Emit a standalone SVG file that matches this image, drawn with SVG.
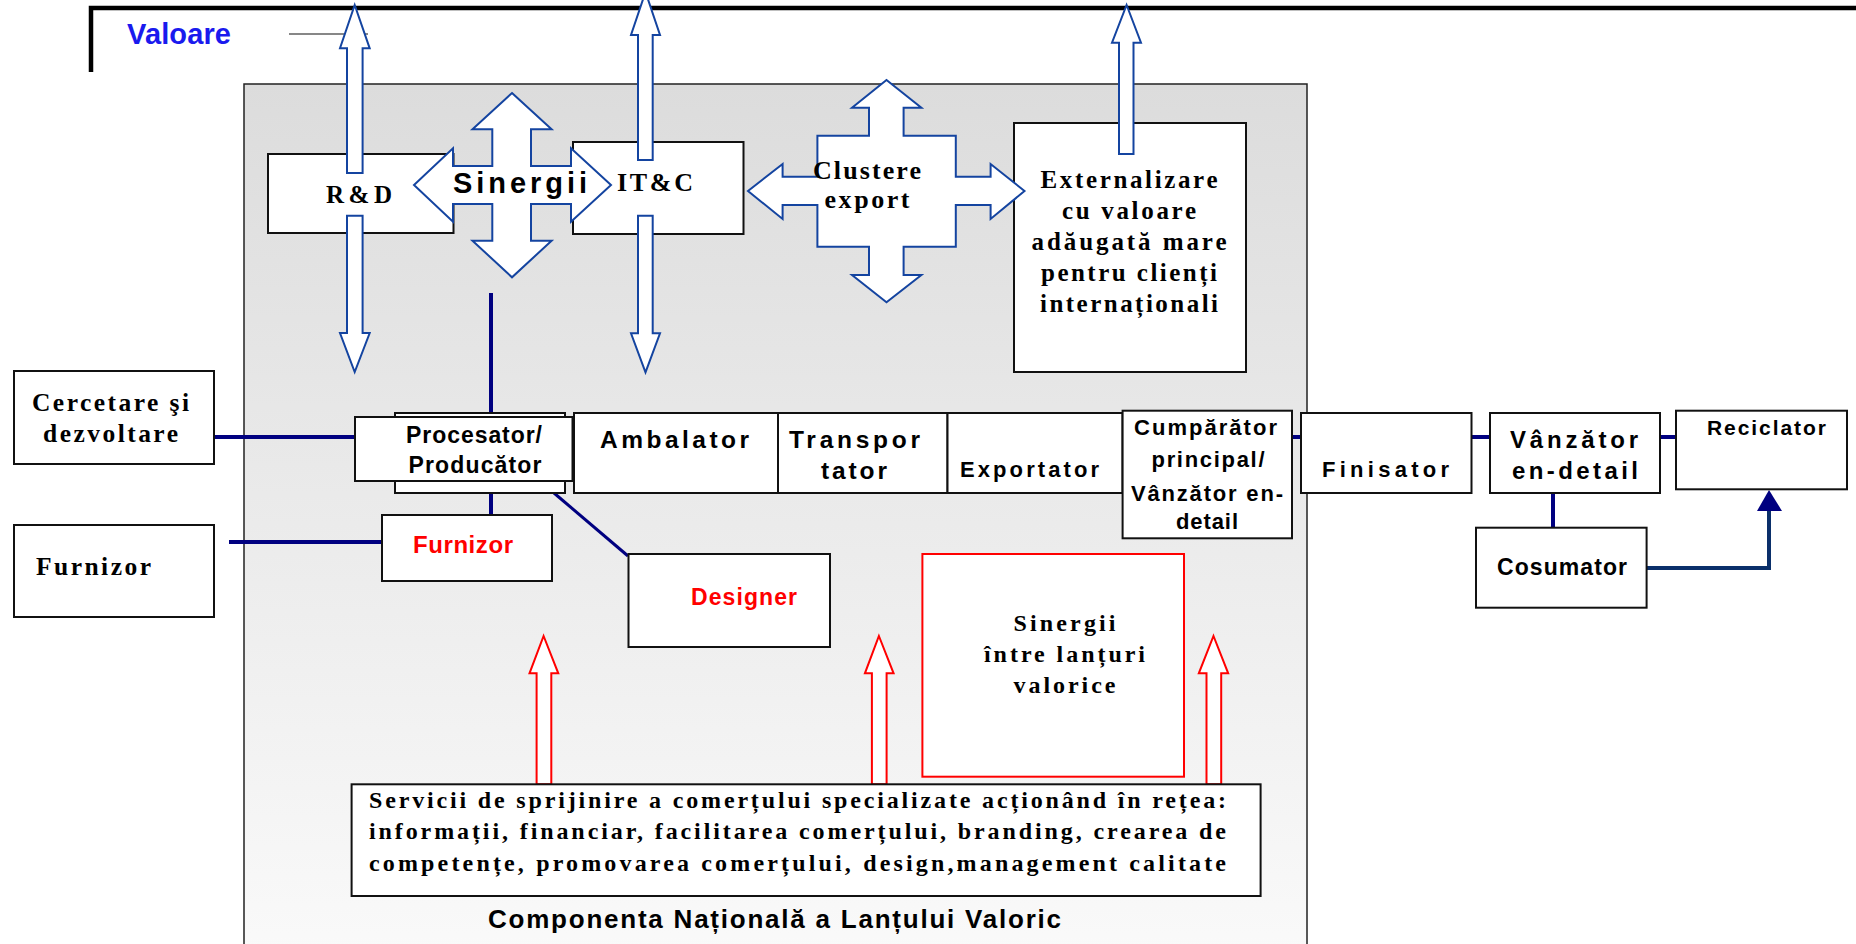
<svg xmlns="http://www.w3.org/2000/svg" width="1856" height="944" viewBox="0 0 1856 944">
<defs>
<linearGradient id="bg" x1="0" y1="0" x2="0" y2="1">
<stop offset="0" stop-color="#dcdcdc"/>
<stop offset="1" stop-color="#fafafa"/>
</linearGradient>
<style>
.box{fill:#fff;stroke:#111;stroke-width:2}
.rbox{fill:#fff;stroke:#ff0000;stroke-width:2}
.barrow{fill:#fff;stroke:#1444a0;stroke-width:2;stroke-linejoin:miter}
.rarrow{fill:#fff;stroke:#ff0000;stroke-width:2}
.link{stroke:#000080;stroke-width:4;fill:none}
.tb{font-family:"Liberation Serif","Times New Roman",serif;font-weight:bold;fill:#000;font-size:24px}
.sb{font-family:"Liberation Sans",Arial,sans-serif;font-weight:bold;fill:#000;font-size:22px}
.red{fill:#ff0000}
.mid{text-anchor:middle}
</style>
</defs>
<rect width="1856" height="944" fill="#fff"/>

<g id="frame">
<rect x="244" y="84" width="1063" height="880" fill="url(#bg)" stroke="#222" stroke-width="1.5"/>
<path d="M91,72 V8 H1856" fill="none" stroke="#000" stroke-width="4.5"/>
<text x="127" y="44" class="sb" style="font-size:29px;fill:#1a1aee" textLength="104" lengthAdjust="spacing">Valoare</text>
<line x1="289" y1="34" x2="368" y2="34" stroke="#111" stroke-width="1.2"/>
<text x="774.5" y="928" class="sb mid" style="font-size:26px" textLength="573" lengthAdjust="spacing">Componenta Națională a Lanțului Valoric</text>
</g>

<g id="connectors">
<line class="link" x1="491" y1="293" x2="491" y2="417"/>
<line class="link" x1="491" y1="493" x2="491" y2="515"/>
<line class="link" x1="214" y1="437" x2="355" y2="437"/>
<line class="link" x1="229" y1="542" x2="382" y2="542"/>
<line x1="554" y1="493" x2="628" y2="556" stroke="#000080" stroke-width="3"/>
<line class="link" x1="1292" y1="437" x2="1301" y2="437"/>
<line class="link" x1="1471" y1="437" x2="1490" y2="437"/>
<line class="link" x1="1660" y1="437" x2="1676" y2="437"/>
<line class="link" x1="1553" y1="493" x2="1553" y2="528"/>
<path d="M1647,568 H1769 V510" fill="none" stroke="#0a2f6a" stroke-width="4"/>
<path d="M1757,511 L1769,490 L1782,511 Z" fill="#000080"/>
</g>

<g id="rd">
<rect class="box" x="268" y="154" width="185.5" height="79"/>
<text x="359" y="203" class="tb mid" style="font-size:25px" textLength="66" lengthAdjust="spacing">R&amp;D</text>
</g>

<g id="itc">
<rect class="box" x="573" y="142" width="170.5" height="92"/>
<text x="655" y="191" class="tb mid" style="font-size:26px" textLength="76" lengthAdjust="spacing">IT&amp;C</text>
</g>

<g id="externalizare">
<rect class="box" x="1014" y="123" width="232" height="249"/>
<text x="1129" y="188" class="tb mid" style="font-size:25px" textLength="177" lengthAdjust="spacing">Externalizare</text>
<text x="1129" y="219" class="tb mid" style="font-size:25px" textLength="134" lengthAdjust="spacing">cu valoare</text>
<text x="1129" y="250" class="tb mid" style="font-size:25px" textLength="195" lengthAdjust="spacing">adăugată mare</text>
<text x="1129" y="281" class="tb mid" style="font-size:25px" textLength="176" lengthAdjust="spacing">pentru clienți</text>
<text x="1129" y="312" class="tb mid" style="font-size:25px" textLength="178" lengthAdjust="spacing">internaționali</text>
</g>

<g id="blue-arrows">
<polygon class="barrow" points="354.7,5 369.7,48.3 362.6,48.3 362.6,173 347,173 347,48.3 340,48.3"/>
<polygon class="barrow" points="347,215.7 362.6,215.7 362.6,333 369.7,333 354.7,372 340,333 347,333"/>
<polygon class="barrow" points="645.5,-8 660,35 652.7,35 652.7,160 638,160 638,35 631,35"/>
<polygon class="barrow" points="638,215.7 652.7,215.7 652.7,333.3 660,333.3 645.5,372.3 631,333.3 638,333.3"/>
<polygon class="barrow" points="1126.6,5 1141,42.7 1133.5,42.7 1133.5,154 1119,154 1119,42.7 1112,42.7"/>
</g>

<g id="sinergii-arrow">
<polygon class="barrow" points="512,93 551.6,129.3 531,129.3 531,166 571,166 571,148.3 611,185 571,221.7 571,204 531,204 531,240.7 551.6,240.7 512,277.3 472.5,240.7 492.3,240.7 492.3,204 453,204 453,221.7 414,185 453,148.3 453,166 492.3,166 492.3,129.3 472.5,129.3"/>
<text x="520" y="193" class="sb mid" style="font-size:29px" textLength="134" lengthAdjust="spacing">Sinergii</text>
</g>

<g id="clustere">
<polygon class="barrow" points="886.5,80 921.4,107.7 903.6,107.7 903.6,135.7 955.8,135.7 955.8,176.7 990.6,176.7 990.6,164 1024.5,191 990.6,219 990.6,205 955.8,205 955.8,246.7 903.6,246.7 903.6,275 921.4,275 886.5,302.3 852,275 869,275 869,246.7 817.4,246.7 817.4,205 782.6,205 782.6,219 748,191 782.6,164 782.6,176.7 817.4,176.7 817.4,135.7 869,135.7 869,107.7 852,107.7"/>
<text x="867" y="179" class="tb mid" style="font-size:26px" textLength="108" lengthAdjust="spacing">Clustere</text>
<text x="867" y="208" class="tb mid" style="font-size:26px" textLength="85" lengthAdjust="spacing">export</text>
</g>

<g id="cercetare">
<rect class="box" x="14" y="371" width="200" height="93"/>
<text x="110.5" y="411" class="tb mid" style="font-size:25.5px" textLength="157" lengthAdjust="spacing">Cercetare şi</text>
<text x="110.5" y="442" class="tb mid" style="font-size:25.5px" textLength="135" lengthAdjust="spacing">dezvoltare</text>
</g>

<g id="furnizor-ext">
<rect class="box" x="14" y="525" width="200" height="92"/>
<text x="36" y="575" class="tb" style="font-size:25.5px" textLength="115" lengthAdjust="spacing">Furnizor</text>
</g>

<g id="procesator">
<rect class="box" x="395" y="413" width="170" height="80"/>
<rect class="box" x="355" y="417" width="217.5" height="64"/>
<text x="474" y="443" class="sb mid" style="font-size:23px" textLength="136" lengthAdjust="spacing">Procesator/</text>
<text x="475" y="473" class="sb mid" style="font-size:23px" textLength="133" lengthAdjust="spacing">Producător</text>
</g>

<g id="furnizor-int">
<rect class="box" x="382" y="515" width="170" height="66"/>
<text x="463" y="553" class="sb mid red" style="font-size:24px" textLength="100" lengthAdjust="spacing">Furnizor</text>
</g>

<g id="designer">
<rect class="box" x="628.5" y="554" width="201.5" height="93"/>
<text x="744" y="605" class="sb mid red" style="font-size:23px" textLength="106" lengthAdjust="spacing">Designer</text>
</g>

<g id="ambalator">
<rect class="box" x="574" y="413" width="204" height="80"/>
<text x="674.5" y="448" class="sb mid" style="font-size:24.5px" textLength="149" lengthAdjust="spacing">Ambalator</text>
</g>

<g id="transportator">
<rect class="box" x="778" y="413" width="169.5" height="80"/>
<text x="854.5" y="448" class="sb mid" style="font-size:24.5px" textLength="131" lengthAdjust="spacing">Transpor</text>
<text x="854" y="479" class="sb mid" style="font-size:24.5px" textLength="66" lengthAdjust="spacing">tator</text>
</g>

<g id="exportator">
<rect class="box" x="947.5" y="413" width="175" height="80"/>
<text x="1029.5" y="477" class="sb mid" textLength="139" lengthAdjust="spacing">Exportator</text>
</g>

<g id="cumparator">
<rect class="box" x="1122.6" y="410.7" width="169.4" height="127.6"/>
<text x="1205.5" y="435" class="sb mid" textLength="143" lengthAdjust="spacing">Cumpărător</text>
<text x="1208" y="467" class="sb mid" textLength="113" lengthAdjust="spacing">principal/</text>
<text x="1207" y="501" class="sb mid" textLength="152" lengthAdjust="spacing">Vânzător en-</text>
<text x="1207" y="529" class="sb mid" textLength="62" lengthAdjust="spacing">detail</text>
</g>

<g id="finisator">
<rect class="box" x="1301" y="413" width="170.5" height="80"/>
<text x="1385.5" y="477" class="sb mid" textLength="127" lengthAdjust="spacing">Finisator</text>
</g>

<g id="vanzator">
<rect class="box" x="1490" y="413" width="170" height="80"/>
<text x="1574" y="448" class="sb mid" style="font-size:24px" textLength="128" lengthAdjust="spacing">Vânzător</text>
<text x="1575" y="479" class="sb mid" style="font-size:24px" textLength="126" lengthAdjust="spacing">en-detail</text>
</g>

<g id="reciclator">
<rect class="box" x="1676" y="410.7" width="171" height="78.6"/>
<text x="1766.5" y="435" class="sb mid" style="font-size:21px" textLength="119" lengthAdjust="spacing">Reciclator</text>
</g>

<g id="cosumator">
<rect class="box" x="1476" y="527.7" width="170.6" height="80"/>
<text x="1562" y="575" class="sb mid" style="font-size:23px" textLength="130" lengthAdjust="spacing">Cosumator</text>
</g>

<g id="sinergii-lanturi">
<rect class="rbox" x="922.4" y="554" width="261.6" height="222.7"/>
<text x="1064.5" y="631" class="tb mid" textLength="102" lengthAdjust="spacing">Sinergii</text>
<text x="1064.5" y="662" class="tb mid" textLength="161" lengthAdjust="spacing">între lanțuri</text>
<text x="1064.5" y="693" class="tb mid" textLength="102" lengthAdjust="spacing">valorice</text>
</g>

<g id="red-arrows">
<polygon class="rarrow" points="543.6,636 558.3,673.3 551.3,673.3 551.3,784.3 536.6,784.3 536.6,673.3 529.5,673.3"/>
<polygon class="rarrow" points="878.9,636 893.6,673.3 886.6,673.3 886.6,784.3 871.9,784.3 871.9,673.3 864.9,673.3"/>
<polygon class="rarrow" points="1213.5,636 1228.2,673.3 1221.2,673.3 1221.2,784.3 1206.5,784.3 1206.5,673.3 1198.8,673.3"/>
</g>

<g id="servicii">
<rect class="box" x="351.6" y="784.3" width="909" height="111.7"/>
<text x="369" y="808" class="tb" textLength="857" lengthAdjust="spacing">Servicii de sprijinire a comerțului specializate acționând în rețea:</text>
<text x="369" y="839" class="tb" textLength="857" lengthAdjust="spacing">informații, financiar, facilitarea comerțului, branding, crearea de</text>
<text x="369" y="871" class="tb" textLength="857" lengthAdjust="spacing">competențe, promovarea comerțului, design,management calitate</text>
</g>
</svg>
